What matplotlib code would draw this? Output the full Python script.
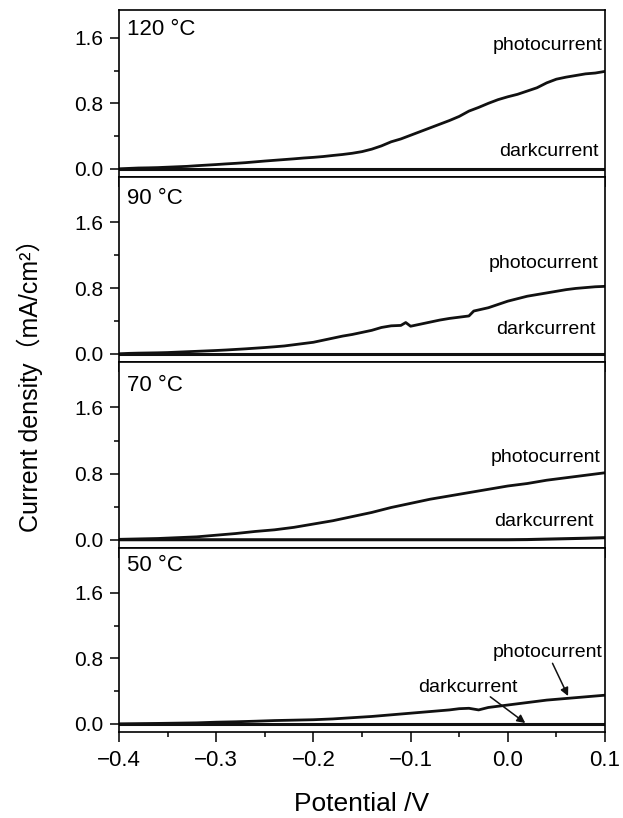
import matplotlib
matplotlib.use("Agg")
import matplotlib.pyplot as plt
from matplotlib.ticker import FixedLocator, MultipleLocator

plt.rcParams['font.family'] = ['Liberation Sans', 'Noto Sans CJK SC', 'DejaVu Sans']

# photocurrent curves (potential in V, current density in mA/cm2)
v_120 = [-0.40, -0.39, -0.38, -0.37, -0.36, -0.35, -0.34, -0.33, -0.32, -0.31,
         -0.30, -0.29, -0.28, -0.27, -0.26, -0.25, -0.24, -0.23, -0.22, -0.21,
         -0.20, -0.19, -0.18, -0.17, -0.16, -0.15, -0.14, -0.13, -0.12, -0.11,
         -0.10, -0.09, -0.08, -0.07, -0.06, -0.05, -0.04, -0.03, -0.02, -0.01,
         0.00, 0.01, 0.02, 0.03, 0.04, 0.05, 0.06, 0.07, 0.08, 0.09, 0.10]
j_120 = [0.000, 0.005, 0.010, 0.012, 0.015, 0.020, 0.025, 0.030, 0.038, 0.045,
         0.052, 0.060, 0.067, 0.075, 0.085, 0.095, 0.104, 0.113, 0.122, 0.132,
         0.140, 0.150, 0.163, 0.175, 0.190, 0.210, 0.240, 0.280, 0.330, 0.365,
         0.410, 0.455, 0.500, 0.545, 0.590, 0.640, 0.705, 0.750, 0.800, 0.845,
         0.880, 0.910, 0.950, 0.990, 1.050, 1.095, 1.120, 1.140, 1.160, 1.170, 1.190]

v_90 = [-0.40, -0.39, -0.38, -0.37, -0.36, -0.35, -0.34, -0.33, -0.32, -0.31,
        -0.30, -0.29, -0.28, -0.27, -0.26, -0.25, -0.24, -0.23, -0.22, -0.21,
        -0.20, -0.19, -0.18, -0.17, -0.16, -0.15, -0.14, -0.13, -0.12, -0.11,
        -0.105, -0.10, -0.09, -0.08, -0.07, -0.06, -0.05, -0.04, -0.035, -0.02,
        -0.01, 0.00, 0.01, 0.02, 0.03, 0.04, 0.05, 0.06, 0.07, 0.08, 0.09, 0.10]
j_90 = [0.000, 0.005, 0.008, 0.010, 0.012, 0.015, 0.020, 0.025, 0.030, 0.035,
        0.040, 0.046, 0.053, 0.060, 0.068, 0.076, 0.085, 0.095, 0.110, 0.125,
        0.140, 0.165, 0.190, 0.215, 0.235, 0.260, 0.285, 0.320, 0.340, 0.345,
        0.380, 0.335, 0.360, 0.385, 0.410, 0.430, 0.445, 0.460, 0.520, 0.560,
        0.600, 0.640, 0.670, 0.700, 0.720, 0.740, 0.760, 0.780, 0.795, 0.805, 0.815, 0.820]

v_70 = [-0.40, -0.38, -0.36, -0.34, -0.32, -0.30, -0.28, -0.26, -0.24, -0.22,
        -0.20, -0.18, -0.16, -0.14, -0.12, -0.10, -0.08, -0.06, -0.04, -0.02,
        0.00, 0.02, 0.04, 0.06, 0.08, 0.10]
j_70 = [0.005, 0.010, 0.015, 0.025, 0.035, 0.055, 0.075, 0.100, 0.120, 0.150,
        0.190, 0.230, 0.280, 0.330, 0.390, 0.440, 0.490, 0.530, 0.570, 0.610,
        0.650, 0.680, 0.720, 0.750, 0.780, 0.810]

v_50 = [-0.40, -0.36, -0.32, -0.30, -0.28, -0.26, -0.24, -0.22, -0.20, -0.18,
        -0.16, -0.14, -0.12, -0.10, -0.08, -0.06, -0.05, -0.04, -0.03, -0.02,
        0.00, 0.02, 0.04, 0.06, 0.08, 0.10]
j_50 = [0.000, 0.005, 0.012, 0.020, 0.025, 0.032, 0.040, 0.045, 0.050, 0.060,
        0.075, 0.090, 0.110, 0.130, 0.150, 0.170, 0.185, 0.190, 0.170, 0.200,
        0.230, 0.260, 0.290, 0.310, 0.330, 0.350]

# dark current curves
dark_v = [-0.40, 0.00, 0.02, 0.05, 0.08, 0.10]
dark_120 = [0.0, 0.0, 0.0, 0.0, 0.0, 0.0]
dark_90 = [0.0, 0.0, 0.0, 0.0, 0.0, 0.0]
dark_70 = [0.0, 0.0, 0.002, 0.010, 0.018, 0.025]
dark_50 = [0.0, 0.0, 0.0, 0.0, 0.0, 0.0]

temps = ["120 °C", "90 °C", "70 °C", "50 °C"]
photo = [(v_120, j_120), (v_90, j_90), (v_70, j_70), (v_50, j_50)]
dark = [dark_120, dark_90, dark_70, dark_50]

W, H = 623, 818
fig = plt.figure(figsize=(W / 100, H / 100), dpi=100)

# panel edges in pixels (top, bottom)
edges = [(10, 177), (177, 362), (362, 548), (548, 732)]
ytops = [1.94, 2.15, 2.15, 2.15]
temp_y = [1.70, 1.89, 1.86, 1.93]
left, right = 119, 605

axes = []
for i in range(4):
    t, b = edges[i]
    ax = fig.add_axes([left / W, 1 - b / H, (right - left) / W, (b - t) / H])
    axes.append(ax)
    v, j = photo[i]
    ax.plot(v, j, color='#111111', lw=2.0)
    ax.plot(dark_v, dark[i], color='#111111', lw=2.2)
    ax.set_xlim(-0.4, 0.1)
    ax.set_ylim(-0.1, ytops[i])
    ax.yaxis.set_major_locator(FixedLocator([0.0, 0.8, 1.6]))
    ax.yaxis.set_minor_locator(FixedLocator([0.4, 1.2]))
    ax.set_yticklabels(["0.0", "0.8", "1.6"])
    ax.xaxis.set_major_locator(MultipleLocator(0.1))
    ax.xaxis.set_minor_locator(MultipleLocator(0.05))
    ax.tick_params(axis='y', which='major', direction='out', length=6.5, width=1.1,
                   labelsize=15, pad=5, right=False)
    ax.tick_params(axis='y', which='minor', direction='out', length=3.5, width=1.1, right=False)
    ax.tick_params(axis='x', which='major', direction='out', length=7, width=1.1,
                   labelsize=16, pad=6, top=False)
    ax.tick_params(axis='x', which='minor', direction='out', length=3.5, width=1.1, top=False)
    for s in ax.spines.values():
        s.set_linewidth(1.2)
    if i < 3:
        ax.tick_params(axis='x', labelbottom=False)
    ax.text(-0.392, temp_y[i], temps[i], fontsize=16, ha='left', va='center')

axes[0].text(0.097, 1.51, "photocurrent", fontsize=14, ha='right', va='center')
axes[0].text(0.093, 0.21, "darkcurrent", fontsize=14, ha='right', va='center')
axes[1].text(0.093, 1.10, "photocurrent", fontsize=14, ha='right', va='center')
axes[1].text(0.090, 0.29, "darkcurrent", fontsize=14, ha='right', va='center')
axes[2].text(0.095, 1.00, "photocurrent", fontsize=14, ha='right', va='center')
axes[2].text(0.088, 0.22, "darkcurrent", fontsize=14, ha='right', va='center')

ax4 = axes[3]
ax4.text(0.041, 0.87, "photocurrent", fontsize=14, ha='center', va='center')
ax4.text(-0.041, 0.45, "darkcurrent", fontsize=14, ha='center', va='center')
arrow = dict(arrowstyle='-|>', color='#111111', lw=1.1, mutation_scale=12, shrinkA=0, shrinkB=0)
ax4.annotate('', xy=(0.062, 0.34), xytext=(0.046, 0.74), arrowprops=arrow)
ax4.annotate('', xy=(0.018, 0.01), xytext=(-0.018, 0.33), arrowprops=arrow)

fig.text(30 / W, 1 - 379 / H, "Current density（mA/cm²）", rotation=90,
         fontsize=18, ha='center', va='center')
fig.text(362 / W, 1 - 804 / H, "Potential /V", fontsize=19, ha='center', va='center')

fig.savefig("out.png", dpi=100)
